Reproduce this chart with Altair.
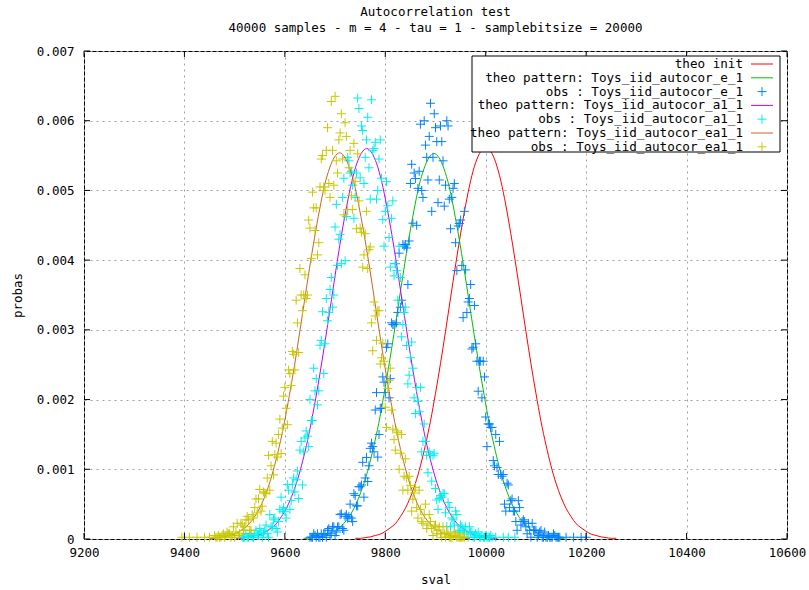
import altair as alt
import pandas as pd

FONT = "DejaVu Sans Mono"

labels = [
    "theo init",
    "theo pattern: Toys_iid_autocor_e_1",
    "obs : Toys_iid_autocor_e_1",
    "theo pattern: Toys_iid_autocor_a1_1",
    "obs : Toys_iid_autocor_a1_1",
    "theo pattern: Toys_iid_autocor_ea1_1",
    "obs : Toys_iid_autocor_ea1_1",
]
kinds = ["line", "line", "obs", "line", "obs", "line", "obs"]
colors = ["#ff0000", "#00c000", "#0080ff", "#c000ff", "#00eeee", "#c86428", "#c8c800"]

# theoretical curves (step 10 in sval)
theo_init_x0 = 9740
theo_init_y = [0.00001, 0.00001, 0.00002, 0.00003, 0.00005, 0.00007, 0.00011, 0.00016, 0.00022, 0.00032,
               0.00044, 0.00060, 0.00080, 0.00105, 0.00135, 0.00169, 0.00209, 0.00252, 0.00298, 0.00346,
               0.00393, 0.00438, 0.00479, 0.00514, 0.00540, 0.00556, 0.00562, 0.00556, 0.00540, 0.00514,
               0.00479, 0.00438, 0.00393, 0.00346, 0.00298, 0.00252, 0.00209, 0.00169, 0.00135, 0.00105,
               0.00080, 0.00060, 0.00044, 0.00032, 0.00022, 0.00016, 0.00011, 0.00007, 0.00005, 0.00003,
               0.00002, 0.00001, 0.00001]
theo_e_x0 = 9637
theo_e_y = [0.00001, 0.00001, 0.00002, 0.00003, 0.00005, 0.00007, 0.00011, 0.00015, 0.00022, 0.00031,
            0.00043, 0.00059, 0.00079, 0.00103, 0.00133, 0.00166, 0.00206, 0.00248, 0.00293, 0.00340,
            0.00387, 0.00431, 0.00471, 0.00506, 0.00531, 0.00547, 0.00553, 0.00547, 0.00531, 0.00506,
            0.00471, 0.00431, 0.00387, 0.00340, 0.00293, 0.00248, 0.00206, 0.00166, 0.00133, 0.00103,
            0.00079, 0.00059, 0.00043, 0.00031, 0.00022, 0.00015, 0.00011, 0.00007, 0.00005, 0.00003,
            0.00002, 0.00001, 0.00001]
theo_a1_x0 = 9503
theo_a1_y = [0.00001, 0.00001, 0.00002, 0.00003, 0.00005, 0.00007, 0.00011, 0.00016, 0.00022, 0.00032,
             0.00044, 0.00060, 0.00080, 0.00105, 0.00134, 0.00169, 0.00208, 0.00251, 0.00297, 0.00344,
             0.00392, 0.00437, 0.00477, 0.00512, 0.00538, 0.00554, 0.00560, 0.00554, 0.00538, 0.00512,
             0.00477, 0.00437, 0.00392, 0.00344, 0.00297, 0.00251, 0.00208, 0.00169, 0.00134, 0.00105,
             0.00080, 0.00060, 0.00044, 0.00032, 0.00022, 0.00016, 0.00011, 0.00007, 0.00005, 0.00003,
             0.00002, 0.00001, 0.00001]
theo_ea1_x0 = 9449
theo_ea1_y = [0.00001, 0.00001, 0.00002, 0.00003, 0.00005, 0.00007, 0.00011, 0.00015, 0.00022, 0.00031,
              0.00043, 0.00059, 0.00079, 0.00104, 0.00133, 0.00167, 0.00206, 0.00248, 0.00294, 0.00341,
              0.00388, 0.00432, 0.00472, 0.00507, 0.00532, 0.00548, 0.00554, 0.00548, 0.00532, 0.00507,
              0.00472, 0.00432, 0.00388, 0.00341, 0.00294, 0.00248, 0.00206, 0.00167, 0.00133, 0.00104,
              0.00079, 0.00059, 0.00043, 0.00031, 0.00022, 0.00015, 0.00011, 0.00007, 0.00005, 0.00003,
              0.00002, 0.00001, 0.00001]

# observed points: two interleaved grids (step 5 in sval) + isolated tail points
obs_e_x0 = 9650
obs_e_y = [0.000025, 0.000025, 0.00005, 0.000075, 0.000025, 0.000025, 0.000075, 0.000125, 0.00005, 0.000175,
           0.00005, 0.000175, 0.00035, 0.00015, 0.000325, 0.0003, 0.0005, 0.00025, 0.000625, 0.000475,
           0.00075, 0.0011, 0.000875, 0.000825, 0.0013, 0.001325, 0.00185, 0.001175, 0.001875, 0.002325,
           0.0021, 0.0028, 0.0023, 0.003075, 0.00395, 0.00325, 0.003325, 0.004225, 0.004225, 0.00365,
           0.0051, 0.00453, 0.00517, 0.00503, 0.00595, 0.0049, 0.00565, 0.00515, 0.00625, 0.005475,
           0.0059, 0.004825, 0.005925, 0.005425, 0.005075, 0.005925, 0.00445, 0.00503, 0.00425, 0.00449,
           0.004575, 0.003175, 0.00386, 0.0034, 0.00365, 0.00275, 0.0028, 0.00212, 0.00255, 0.00255,
           0.00175, 0.00165, 0.0016, 0.001125, 0.0015, 0.000925, 0.000925, 0.000925, 0.0004, 0.000775,
           0.00055, 0.0004, 0.00025, 0.00055, 0.0002, 0.000275, 0.000175, 0.000225, 0.000025, 0.000125,
           0.000125, 0.00005, 0.000125, 0.000025, 0.000025, 0.00005, 0.000025, 0.000075, 0.000025, 0.000025]
obs_e_x0b = 9652.5
obs_e_yb = [0.000025, 0.000075, 0.000025, 0.000025, 0.000075, 0.000075, 0.000025, 0.00015, 0.000075, 0.000175,
            0.0001, 0.000175, 0.00036, 0.000125, 0.00035, 0.000325, 0.0003, 0.00065, 0.000475, 0.00075,
            0.000775, 0.0006, 0.00117, 0.00105, 0.001375, 0.00125, 0.0021, 0.0015, 0.001875, 0.00225,
            0.00275, 0.002025, 0.0031, 0.003075, 0.0031, 0.0041, 0.003425, 0.0042, 0.004175, 0.004275,
            0.005375, 0.00525, 0.0045, 0.005275, 0.005, 0.006, 0.005475, 0.005775, 0.0047, 0.0061,
            0.0057, 0.00515, 0.0057, 0.004775, 0.006, 0.004875, 0.0049, 0.0051, 0.00385, 0.004525,
            0.003925, 0.0047, 0.00325, 0.00345, 0.002725, 0.00335, 0.00255, 0.00255, 0.002025, 0.002325,
            0.001325, 0.00165, 0.0016, 0.00105, 0.001025, 0.0014, 0.0009, 0.0005, 0.0008, 0.00045,
            0.000575, 0.0004, 0.000125, 0.00045, 0.00025, 0.00025, 0.000075, 0.000125, 0.000225, 0.000125,
            0.000025, 0.0001, 0.000025, 0.0001, 0.000025, 0.000025, 0.000025, 0.00005, 0.000025, 0.000025]
obs_e_tail_x = [10160, 10175, 10190, 10200]
obs_e_tail_y = [0.000025, 0.000025, 0.000025, 0.000025]

obs_a1_x0 = 9515
obs_a1_y = [0.000025, 0.000025, 0.000025, 0.000075, 0.000025, 0.000075, 0.00005, 0.00015, 0.000025, 0.000125,
            0.000075, 0.00035, 0.000175, 0.0003, 0.0001, 0.000425, 0.0004, 0.00039, 0.00078, 0.000425,
            0.000785, 0.000675, 0.000975, 0.001275, 0.000775, 0.00145, 0.001475, 0.002, 0.0017, 0.002125,
            0.001925, 0.00278, 0.00326, 0.0028, 0.00313, 0.00358, 0.003325, 0.004475, 0.003925, 0.00437,
            0.0049, 0.00399, 0.005475, 0.00525, 0.005075, 0.0049, 0.006325, 0.00518, 0.00586, 0.005475,
            0.00605, 0.004875, 0.00557, 0.00569, 0.005, 0.005725, 0.00458, 0.0047, 0.00478, 0.0039,
            0.00485, 0.00395, 0.003425, 0.00375, 0.003075, 0.003325, 0.002225, 0.0026, 0.00245, 0.0018,
            0.001975, 0.002175, 0.0014, 0.0014, 0.00095, 0.0012, 0.0012, 0.000725, 0.000425, 0.000625,
            0.00065, 0.000375, 0.000525, 0.000175, 0.000275, 0.0004, 0.000125, 0.0002, 0.000125, 0.000175,
            0.000025, 0.0001, 0.000025, 0.000075, 0.0001, 0.000025, 0.000025, 0.00005, 0.000025, 0.00005]
obs_a1_x0b = 9517.5
obs_a1_yb = [0.000025, 0.000075, 0.000025, 0.00005, 0.000025, 0.000125, 0.00005, 0.0001, 0.000075, 0.0002,
             0.000025, 0.000175, 0.000275, 0.00015, 0.00025, 0.0006, 0.00045, 0.0003, 0.0007, 0.00055,
             0.000875, 0.00085, 0.00058, 0.0014, 0.00125, 0.00155, 0.001325, 0.0017, 0.00245, 0.0023,
             0.002125, 0.00285, 0.002375, 0.00345, 0.00325, 0.00375, 0.0035, 0.0048, 0.0043, 0.00395,
             0.005175, 0.004625, 0.005425, 0.005275, 0.0046, 0.00525, 0.006175, 0.005925, 0.0051, 0.005725,
             0.005325, 0.0063, 0.0056, 0.004875, 0.00545, 0.005175, 0.0042, 0.005125, 0.004325, 0.0046,
             0.003775, 0.00385, 0.0042, 0.0029, 0.00325, 0.002775, 0.00235, 0.002825, 0.002025, 0.002175,
             0.001825, 0.00125, 0.00165, 0.0012, 0.00125, 0.00083, 0.00123, 0.00056, 0.00058, 0.0006,
             0.00065, 0.00018, 0.00045, 0.0003, 0.0002, 0.00035, 0.0001, 0.000175, 0.0001, 0.00007,
             0.000175, 0.0001, 0.000025, 0.00005, 0.000025, 0.00005, 0.000025, 0.000025, 0.000025, 0.000025]
obs_a1_tail_x = [10020, 10035, 10045, 10058]
obs_a1_tail_y = [0.000025, 0.000025, 0.000025, 0.000025]

obs_ea1_x0 = 9460
obs_ea1_y = [0.00005, 0.000025, 0.000025, 0.00005, 0.000025, 0.0001, 0.000075, 0.00005, 0.000025, 0.000225,
             0.000075, 0.0002, 0.000175, 0.000325, 0.000125, 0.00035, 0.00045, 0.000375, 0.00071, 0.00047,
             0.00066, 0.000875, 0.0007, 0.0014, 0.00121, 0.001175, 0.00172, 0.00159, 0.002175, 0.00164,
             0.002375, 0.00269, 0.002425, 0.0031, 0.00388, 0.003275, 0.00379, 0.0035, 0.00446, 0.004975,
             0.004425, 0.004075, 0.00505, 0.0055, 0.005, 0.0059, 0.0049, 0.005575, 0.00635, 0.00525,
             0.005825, 0.00545, 0.00597, 0.004725, 0.005575, 0.004725, 0.00513, 0.005525, 0.00446, 0.0039,
             0.00438, 0.00388, 0.00419, 0.0027, 0.0032, 0.003275, 0.00251, 0.00281, 0.00189, 0.00216,
             0.00245, 0.001575, 0.001275, 0.001525, 0.00123, 0.0007, 0.00115, 0.0007, 0.00077, 0.00057,
             0.00074, 0.0003, 0.000425, 0.000225, 0.0005, 0.0002, 0.00025, 0.00005, 0.0002, 0.000125,
             0.000075, 0.000175, 0.000025, 0.000075, 0.000025, 0.00005, 0.00005, 0.000025, 0.000025, 0.000025]
obs_ea1_x0b = 9462.5
obs_ea1_yb = [0.000025, 0.00005, 0.000025, 0.000075, 0.00005, 0.000075, 0.000025, 0.000175, 0.0001, 0.00005,
              0.000225, 0.000125, 0.000275, 0.000275, 0.000125, 0.0003, 0.000575, 0.000575, 0.0004, 0.000675,
              0.00065, 0.0012, 0.00105, 0.00092, 0.001375, 0.0015, 0.001225, 0.00205, 0.001875, 0.002425,
              0.0022, 0.00265, 0.003425, 0.002675, 0.0035, 0.0035, 0.00345, 0.004575, 0.004025, 0.00475,
              0.00475, 0.00425, 0.00545, 0.00505, 0.005575, 0.0051, 0.006275, 0.005075, 0.005425, 0.005725,
              0.0061, 0.00465, 0.005775, 0.005325, 0.004925, 0.005675, 0.00445, 0.00485, 0.0044, 0.004075,
              0.0047, 0.00415, 0.0031, 0.0034, 0.00285, 0.003275, 0.0026, 0.00255, 0.0016, 0.002275,
              0.00185, 0.001425, 0.00155, 0.001, 0.0015, 0.0009, 0.000875, 0.0009, 0.0004, 0.00066,
              0.00045, 0.0007, 0.00025, 0.00035, 0.00015, 0.00035, 0.00015, 0.000175, 0.000075, 0.000175,
              0.000025, 0.000075, 0.0001, 0.000025, 0.000025, 0.0001, 0.000025, 0.000025, 0.000025, 0.000025]
obs_ea1_tail_x = [9395, 9410, 9425, 9440, 9450]
obs_ea1_tail_y = [0.000025, 0.000025, 0.000025, 0.000025, 0.000025]

x_ticks = [9200, 9400, 9600, 9800, 10000, 10200, 10400, 10600]
y_ticks = [0, 0.001, 0.002, 0.003, 0.004, 0.005, 0.006, 0.007]


def grid(x0, step, ys):
    return [x0 + step * i for i in range(len(ys))]


def make_df(name, xs, ys):
    return pd.DataFrame({"sval": list(xs), "probas": list(ys), "series": name})


W, H = 703, 488
PLUS = "M-1,0H1M0,-1V1"

color_scale = alt.Scale(domain=labels, range=colors)
x_scale = alt.Scale(domain=[9200, 10600], nice=False, zero=False)
y_scale = alt.Scale(domain=[0, 0.007], nice=False, zero=False)

axis_style = dict(
    grid=True, ticks=False, domain=False, labelFlush=False,
    labelFont=FONT, labelFontSize=12.5, labelColor="black",
    titleFont=FONT, titleFontSize=12.5, titleFontWeight="normal", titleColor="black",
    gridColor="#a0a0a0", gridDash=[2, 4], gridWidth=1, gridOpacity=1,
)
x_axis = alt.Axis(values=x_ticks, format="d", labelPadding=7, titlePadding=15, **axis_style)
y_axis = alt.Axis(values=y_ticks, labelPadding=10, titlePadding=12,
                  labelExpr="datum.value == 0 ? '0' : format(datum.value, '.3f')", **axis_style)


def xe(field):
    return alt.X(field, scale=x_scale, title="sval", axis=x_axis)


def ye(field):
    return alt.Y(field, scale=y_scale, title="probas", axis=y_axis)


c_enc = alt.Color("series:N", scale=color_scale, legend=None)


def line_layer(df):
    return alt.Chart(df).mark_line(strokeWidth=1, interpolate="monotone").encode(
        x=xe("sval:Q"), y=ye("probas:Q"), color=c_enc)


def point_layer(df):
    return alt.Chart(df).mark_point(shape=PLUS, size=81, filled=False, strokeWidth=1, opacity=1).encode(
        x=xe("sval:Q"), y=ye("probas:Q"), color=c_enc)


layers = [
    line_layer(make_df(labels[0], grid(theo_init_x0, 10, theo_init_y), theo_init_y)),
    line_layer(make_df(labels[1], grid(theo_e_x0, 10, theo_e_y), theo_e_y)),
    point_layer(make_df(labels[2],
                        grid(obs_e_x0, 5, obs_e_y) + grid(obs_e_x0b, 5, obs_e_yb) + obs_e_tail_x,
                        obs_e_y + obs_e_yb + obs_e_tail_y)),
    line_layer(make_df(labels[3], grid(theo_a1_x0, 10, theo_a1_y), theo_a1_y)),
    point_layer(make_df(labels[4],
                        grid(obs_a1_x0, 5, obs_a1_y) + grid(obs_a1_x0b, 5, obs_a1_yb) + obs_a1_tail_x,
                        obs_a1_y + obs_a1_yb + obs_a1_tail_y)),
    line_layer(make_df(labels[5], grid(theo_ea1_x0, 10, theo_ea1_y), theo_ea1_y)),
    point_layer(make_df(labels[6],
                        grid(obs_ea1_x0, 5, obs_ea1_y) + grid(obs_ea1_x0b, 5, obs_ea1_yb) + obs_ea1_tail_x,
                        obs_ea1_y + obs_ea1_yb + obs_ea1_tail_y)),
]

# inward tick marks on all four sides
xt = pd.DataFrame({"v": x_ticks})
yt = pd.DataFrame({"v": y_ticks})
TL = 6
tick_layers = [
    alt.Chart(xt).mark_rule(color="black", strokeWidth=1).encode(
        x=xe("v:Q"), y=alt.value(H), y2=alt.value(H - TL)),
    alt.Chart(xt).mark_rule(color="black", strokeWidth=1).encode(
        x=xe("v:Q"), y=alt.value(0), y2=alt.value(TL)),
    alt.Chart(yt).mark_rule(color="black", strokeWidth=1).encode(
        y=ye("v:Q"), x=alt.value(0), x2=alt.value(TL)),
    alt.Chart(yt).mark_rule(color="black", strokeWidth=1).encode(
        y=ye("v:Q"), x=alt.value(W - TL), x2=alt.value(W)),
]

# opaque key box in the top-right corner
LX0, LX1, LY0, LY1 = 388, 696, 5, 101
ROW0, ROWH = 13, 13.8
one = pd.DataFrame({"a": [0]})
key_layers = [
    alt.Chart(one).mark_rect(fill="white", stroke="black", strokeWidth=1).encode(
        x=alt.value(LX0), x2=alt.value(LX1), y=alt.value(LY0), y2=alt.value(LY1))
]
for i, (lab, kind) in enumerate(zip(labels, kinds)):
    ry = ROW0 + ROWH * i
    row = pd.DataFrame({"series": [lab]})
    key_layers.append(
        alt.Chart(row).mark_text(align="right", baseline="middle", font=FONT, fontSize=12.6,
                                 color="black").encode(
            x=alt.value(659), y=alt.value(ry), text="series:N"))
    if kind == "line":
        key_layers.append(alt.Chart(row).mark_rule(strokeWidth=1).encode(
            x=alt.value(667), x2=alt.value(689), y=alt.value(ry), color=c_enc))
    else:
        key_layers.append(alt.Chart(row).mark_point(
            shape=PLUS, size=81, filled=False, strokeWidth=1, opacity=1).encode(
            x=alt.value(678), y=alt.value(ry), color=c_enc))

chart = alt.layer(*layers, *tick_layers, *key_layers).properties(
    width=W, height=H,
    background="white",
    title=alt.TitleParams(
        ["Autocorrelation test", "40000 samples - m = 4 - tau = 1 - samplebitsize = 20000"],
        font=FONT, fontSize=12.5, fontWeight="normal", color="black", anchor="middle",
        lineHeight=16, offset=11),
    padding={"left": 84, "top": 51, "right": 22, "bottom": 51},
    autosize=alt.AutoSizeParams(type="none"),
).configure_view(stroke="black", strokeWidth=1)

chart.save("out.html", embed_options={"renderer": "svg", "actions": False})
